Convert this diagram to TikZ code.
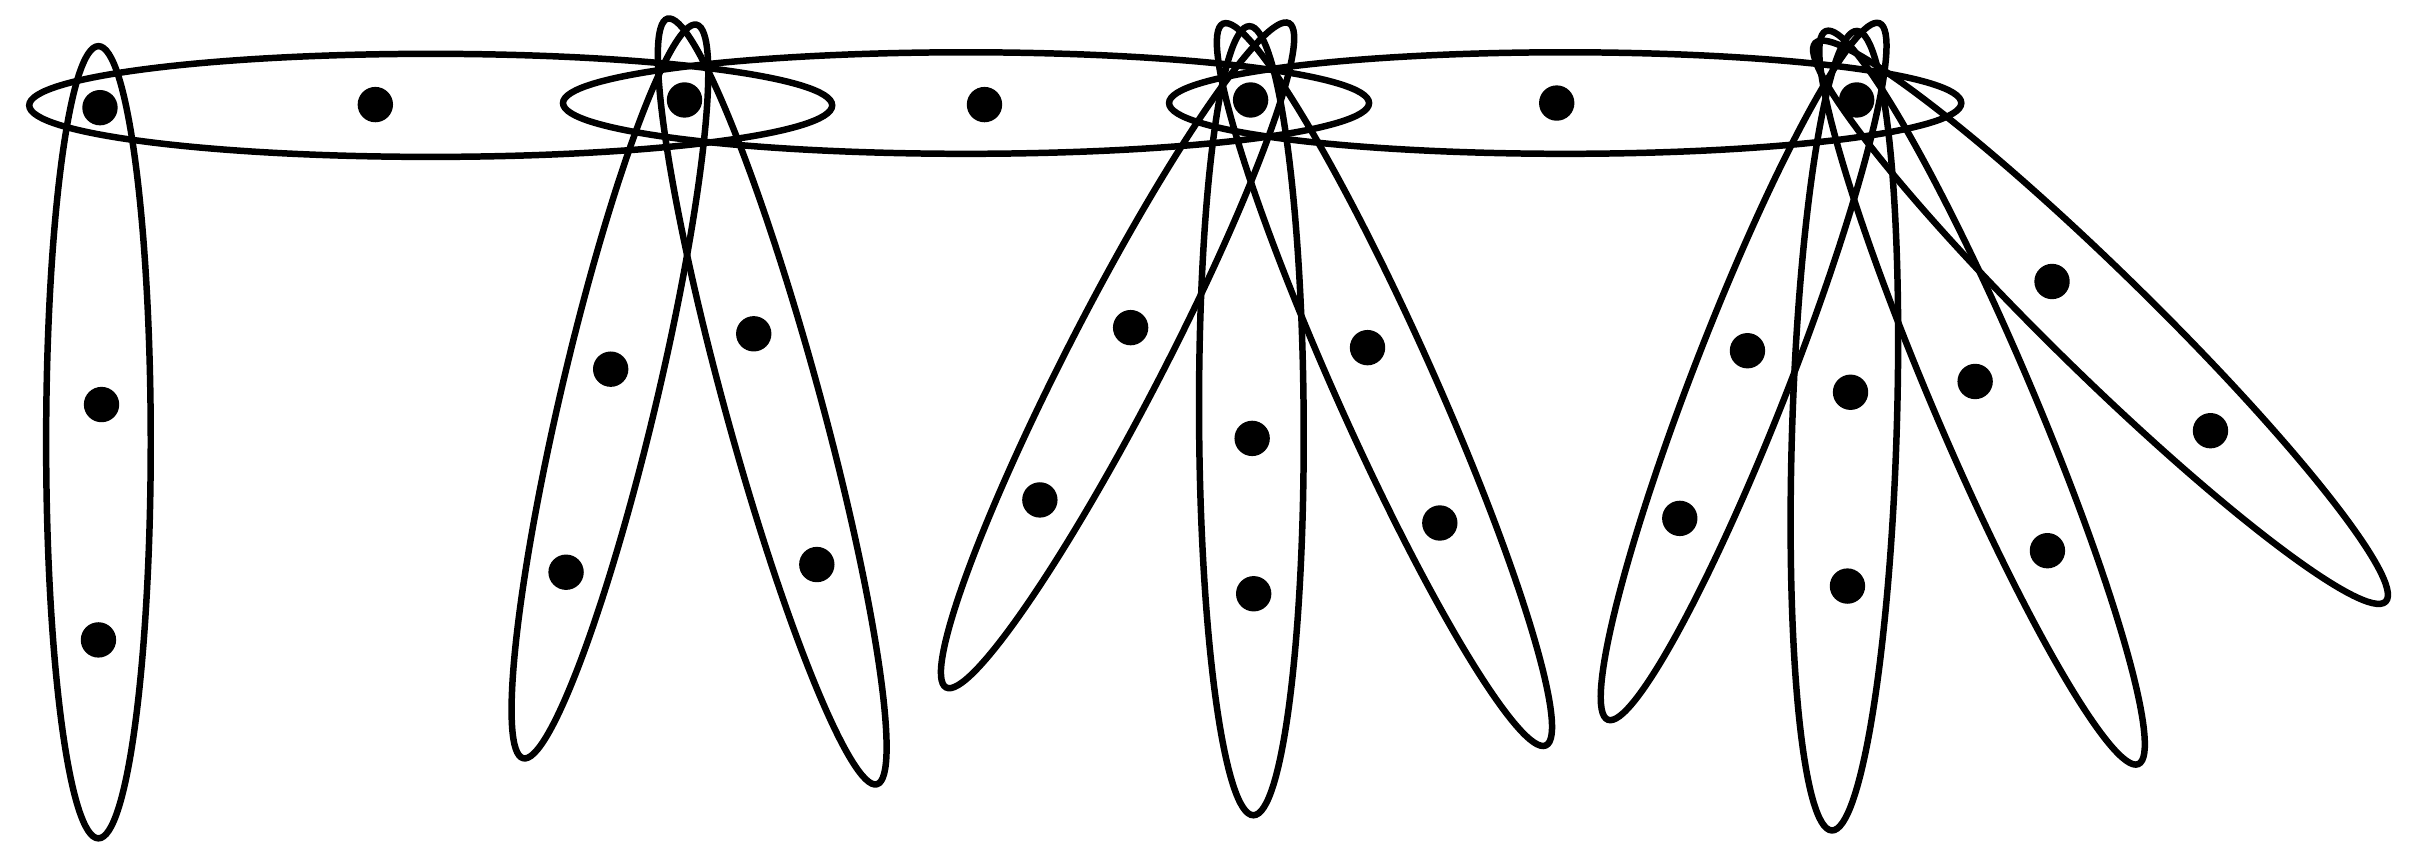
\documentclass[tikz,border=0pt]{standalone}
\usepackage{tikz}

\begin{document}
\begin{tikzpicture}[x=0.1mm,y=-0.1mm,line width=1.2pt]

\useasboundingbox (0,0) rectangle (1568,563);

% spine vertices
\coordinate (1) at (65,70);
\coordinate (2) at (244,68);
\coordinate (3) at (445,65);
\coordinate (4) at (640,68);
\coordinate (5) at (813,65);
\coordinate (6) at (1012,67);
\coordinate (7) at (1207,65);

% pendant vertices
\coordinate (8) at (66,263);
\coordinate (9) at (64,416);
\coordinate (10) at (397,240);
\coordinate (11) at (368,372);
\coordinate (12) at (490,217);
\coordinate (13) at (531,367);
\coordinate (14) at (735,213);
\coordinate (15) at (676,325);
\coordinate (16) at (814,285);
\coordinate (17) at (815,386);
\coordinate (18) at (889,226);
\coordinate (19) at (936,340);
\coordinate (20) at (1136,228);
\coordinate (21) at (1092,337);
\coordinate (22) at (1203,255);
\coordinate (23) at (1201,381);
\coordinate (24) at (1284,248);
\coordinate (25) at (1331,358);
\coordinate (26) at (1334,183);
\coordinate (27) at (1437,280);

\foreach \i in {1,...,27}
    \fill (\i) circle [radius=11.5];

% hyperedges: centre / angle / radii
\foreach \cx/\cy/\ang/\ra/\rb in {280/68.5/0/261/33.5, 628/67/0/262/33, 1017.5/67/0/257.5/33,
    64/287.5/90/257.5/34,
    396.5/254.5/76.7/245/31, 502/261/105.3/258/31,
    726.5/231/62.7/243/31, 813.5/273.5/90.3/256.5/34, 900/250/114.1/257/32,
    1133.5/241.5/68.7/243/31, 1199/280/88.2/260/34, 1288.5/258.5/113.1/259/32, 1365.5/209.5/135.6/259.5/33}
    \draw [rotate around={\ang:(\cx,\cy)}] (\cx,\cy) ellipse [x radius=\ra, y radius=\rb];

\end{tikzpicture}
\end{document}
